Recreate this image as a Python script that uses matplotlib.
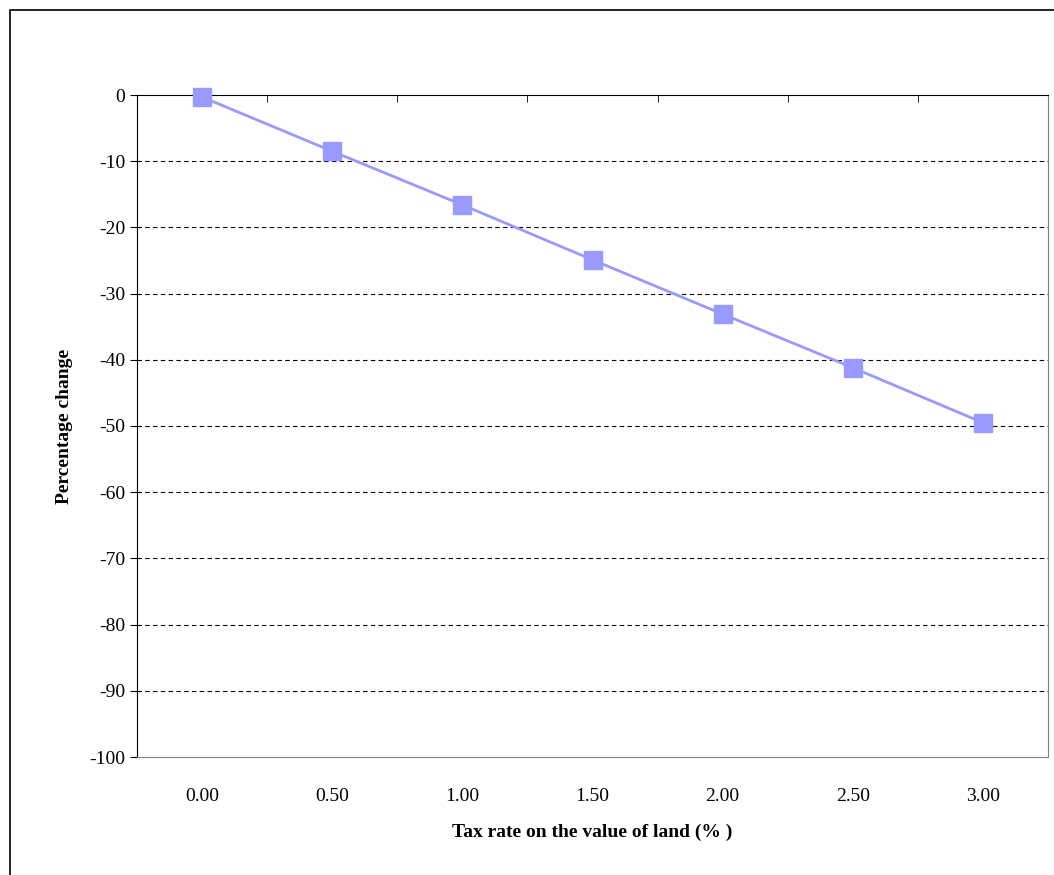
import matplotlib
matplotlib.use("Agg")
import matplotlib.pyplot as plt
from matplotlib.patches import Rectangle

categories = ["0.00", "0.50", "1.00", "1.50", "2.00", "2.50", "3.00"]
values = [-0.3, -8.5, -16.6, -24.9, -33.1, -41.2, -49.5]
yticks = list(range(0, -101, -10))

plt.rcParams['font.family'] = ['Liberation Serif', 'DejaVu Serif']
fig = plt.figure(figsize=(10.54, 8.75), dpi=100)
fig.patches.append(Rectangle((10/1054, -0.01), 1.0, 1 - 10/875 + 0.01, transform=fig.transFigure,
                             fill=False, edgecolor='black', linewidth=1.2))
ax = fig.add_axes([137/1054, 1 - 757/875, (1048-137)/1054, (757-95)/875])
x = list(range(len(categories)))
ax.plot(x, values, color='#9999FF', linewidth=2, marker='s', markersize=13,
        markerfacecolor='#9999FF', markeredgecolor='#9999FF', zorder=3, clip_on=False)
ax.set_xlim(-0.5, len(categories) - 0.5)
ax.set_ylim(-100, 0)
ax.set_yticks(yticks)
ax.set_yticklabels([str(v) for v in yticks], fontsize=14)
ax.set_xticks(x)
ax.set_xticklabels(categories, fontsize=14)
ax.tick_params(axis='x', length=0, pad=22)
ax.tick_params(axis='y', direction='out', length=5)
ax.set_xticks([i - 0.5 for i in range(len(categories) + 1)], minor=True)
ax.tick_params(axis='x', which='minor', top=True, bottom=False, direction='in', length=5)
for v in yticks[1:-1]:
    ax.axhline(v, color='black', linestyle=(0, (4, 3)), linewidth=0.8, zorder=1)
ax.spines['right'].set_color('#808080')
ax.spines['bottom'].set_color('#808080')
ax.set_xlabel('Tax rate on the value of land (% )', fontsize=14, fontweight='bold', labelpad=14)
ax.set_ylabel('Percentage change', fontsize=14, fontweight='bold', labelpad=12)
fig.savefig('out.png', dpi=100)
